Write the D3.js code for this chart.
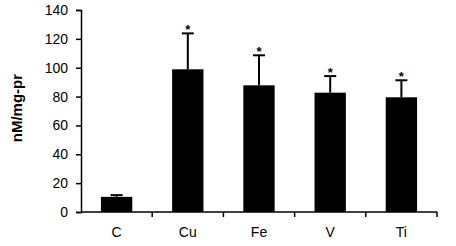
<!DOCTYPE html>
<html>
<head>
<meta charset="utf-8">
<script src="https://cdn.jsdelivr.net/npm/d3@7"></script>
<style>
  body { margin: 0; background: #fff; }
  text { font-family: "Liberation Sans", Arial, sans-serif; }
</style>
</head>
<body>
<div id="chart"></div>
<script>
// Data
const categories = ["C", "Cu", "Fe", "V", "Ti"];
const means = [10.5, 98.9, 87.8, 82.7, 79.5];
const errors = [1.2, 24.9, 20.8, 11.5, 11.8];
const stars = ["", "*", "*", "*", "*"];
const yTicks = [0, 20, 40, 60, 80, 100, 120, 140];

const margin = {top: 10, right: 19, bottom: 34, left: 81},
    width = 456 - margin.left - margin.right,
    height = 246 - margin.top - margin.bottom;

const svg = d3.select("#chart")
    .append("svg")
    .attr("width", width + margin.left + margin.right)
    .attr("height", height + margin.top + margin.bottom)
    .append("g")
    .attr("transform", `translate(${margin.left},${margin.top})`);

const x = d3.scaleBand()
    .domain(categories)
    .range([0, width])
    .padding(0);

const y = d3.scaleLinear()
    .domain([0, 140])
    .range([height, 0]);

const barW = x.bandwidth() * 0.44;
const data = categories.map((c, i) => ({cat: c, mean: means[i], err: errors[i], star: stars[i]}));

// Bars
svg.selectAll(".bar")
    .data(data)
    .enter()
    .append("rect")
    .attr("class", "bar")
    .attr("x", d => x(d.cat) + (x.bandwidth() - barW) / 2)
    .attr("y", d => y(d.mean))
    .attr("width", barW)
    .attr("height", d => height - y(d.mean))
    .attr("fill", "#000");

// Error bars (upper only)
const cx = d => x(d.cat) + x.bandwidth() / 2;
svg.selectAll(".err")
    .data(data)
    .enter()
    .append("line")
    .attr("x1", cx).attr("x2", cx)
    .attr("y1", d => y(d.mean))
    .attr("y2", d => y(d.mean + d.err))
    .attr("stroke", "#000")
    .attr("stroke-width", 2);

svg.selectAll(".cap")
    .data(data)
    .enter()
    .append("line")
    .attr("x1", d => cx(d) - 6).attr("x2", d => cx(d) + 6)
    .attr("y1", d => y(d.mean + d.err))
    .attr("y2", d => y(d.mean + d.err))
    .attr("stroke", "#000")
    .attr("stroke-width", 2);

// Significance stars
svg.selectAll(".star")
    .data(data)
    .enter()
    .append("text")
    .attr("x", cx)
    .attr("y", d => y(d.mean + d.err) + 1)
    .attr("text-anchor", "middle")
    .style("font-size", "13px")
    .style("font-weight", "bold")
    .text(d => d.star);

// Y axis
const yAxis = svg.append("g")
    .call(d3.axisLeft(y).tickValues(yTicks).tickSize(5).tickPadding(8));
yAxis.select(".domain").attr("stroke-width", 1.5);
yAxis.selectAll(".tick line").attr("stroke-width", 1.5);
yAxis.selectAll("text").style("font-size", "14px").attr("fill", "#000");

// X axis: ticks at category boundaries
const xg = svg.append("g")
    .attr("transform", `translate(0,${height})`);
xg.append("line")
    .attr("x1", 0).attr("x2", width)
    .attr("stroke", "#000").attr("stroke-width", 1.5);
xg.selectAll(".xtick")
    .data(categories)
    .enter()
    .append("line")
    .attr("x1", d => x(d) + x.bandwidth()).attr("x2", d => x(d) + x.bandwidth())
    .attr("y1", 0).attr("y2", 5)
    .attr("stroke", "#000").attr("stroke-width", 1.5);
xg.selectAll(".xlabel")
    .data(categories)
    .enter()
    .append("text")
    .attr("x", d => x(d) + x.bandwidth() / 2)
    .attr("y", 25)
    .attr("text-anchor", "middle")
    .style("font-size", "14px")
    .text(d => d);

// Y axis label
svg.append("text")
    .attr("transform", `translate(${-59},${y(72)}) rotate(-90)`)
    .attr("text-anchor", "middle")
    .style("font-size", "15px")
    .style("font-weight", "bold")
    .text("nM/mg-pr");
</script>
</body>
</html>
